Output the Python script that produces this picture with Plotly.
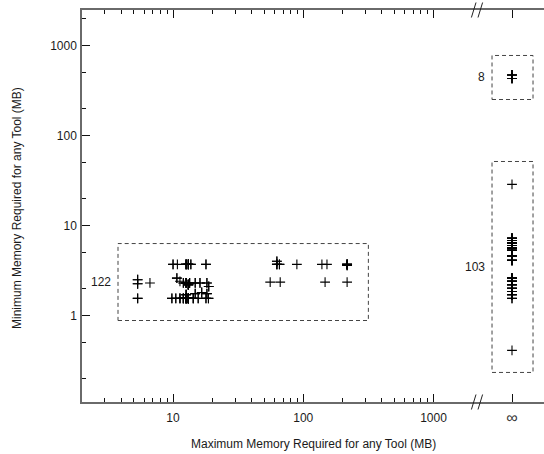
import math
import numpy as np
import plotly.graph_objects as go

# ---------------- data ----------------
# Tools with a finite maximum memory: (max MB, min MB, number of tools at that point)
fin_max = [10.0, 10.8, 12.6, 13.1, 13.7, 17.9, 62.7, 62.7, 65.6, 89.3, 139, 152, 217, 217,
           5.35, 5.35, 6.65, 10.7, 11.3, 12.0, 12.6, 13.1, 13.4, 14.8, 16.1, 18.2, 18.8, 55.7, 66.5, 147, 217,
           5.35, 9.8, 10.5, 11.3, 12.0, 12.6, 13.1, 14.3, 15.6, 17.9, 18.7, 14.8, 16.6, 18.2, 12.6]
fin_min = [3.7, 3.7, 3.7, 3.7, 3.7, 3.7, 4.0, 3.7, 3.7, 3.7, 3.7, 3.7, 3.7, 3.6,
           2.5, 2.25, 2.3, 2.6, 2.4, 2.3, 2.3, 2.2, 2.3, 2.3, 2.3, 2.3, 2.1, 2.35, 2.35, 2.35, 2.35,
           1.55, 1.55, 1.55, 1.55, 1.55, 1.55, 1.55, 1.55, 1.55, 1.55, 1.55, 1.75, 1.8, 1.75, 1.7]
fin_count = [2, 1, 5, 5, 2, 2, 2, 3, 2, 1, 1, 1, 5, 2,
             2, 2, 1, 2, 1, 2, 6, 6, 3, 2, 2, 2, 2, 1, 1, 1, 1,
             2, 2, 2, 3, 4, 10, 10, 3, 2, 2, 2, 2, 2, 2, 3]

# Tools with unbounded (infinite) maximum memory, lower cluster (103 tools)
inf_low_min = [28.6, 7.2, 6.8, 6.4, 6.0, 5.6, 5.3, 4.6, 4.1,
               2.6, 2.4, 2.2, 2.0, 1.85, 1.7, 1.55, 0.41]
inf_low_count = [1, 8, 10, 10, 10, 8, 8, 6, 6,
                 6, 8, 6, 5, 4, 4, 2, 1]

# Tools with unbounded maximum memory, upper cluster (8 tools)
inf_high_min = [470, 430]
inf_high_count = [4, 4]

x_tick_text_inf = "∞"
group_labels = ["122", "8", "103"]

# ---------------- layout constants ----------------
W, H = 544, 454
ML, MR, MT, MB = 82, 0, 10, 52
PW = W - ML - MR
PH = H - MT - MB
BREAK_PX = 470                      # where the log axis stops
SPLIT = (BREAK_PX - ML) / PW
INF_POS = 0.0                       # position of the infinity column on the second x axis
X2_RANGE = [-0.5676, 0.4324]

X_RANGE = [math.log10(2), 3.28]
Y_RANGE = [-0.961, 3.394]

FONT = "Liberation Sans, Arial, Helvetica, sans-serif"
TXT = "#1a1a1a"
AXC = "#6a6a6a"
TKC = "#111111"
BOXC = "#444444"

marker = dict(symbol="cross-thin", size=7, color="black",
              line=dict(width=1.1, color="black"))

fx = np.repeat(fin_max, fin_count)
fy = np.repeat(fin_min, fin_count)
ily = np.repeat(inf_low_min, inf_low_count)
ihy = np.repeat(inf_high_min, inf_high_count)

fig = go.Figure()
fig.add_trace(go.Scatter(x=fx, y=fy, mode="markers", marker=marker,
                         xaxis="x", yaxis="y", showlegend=False))
fig.add_trace(go.Scatter(x=[INF_POS] * len(ily), y=ily, mode="markers", marker=marker,
                         xaxis="x2", yaxis="y", showlegend=False))
fig.add_trace(go.Scatter(x=[INF_POS] * len(ihy), y=ihy, mode="markers", marker=marker,
                         xaxis="x2", yaxis="y", showlegend=False))

common = dict(showgrid=False, zeroline=False, showline=True, linecolor=AXC, linewidth=1.5,
              ticks="inside", ticklen=8, tickcolor=TKC, tickwidth=1,
              tickfont=dict(family=FONT, size=12, color=TXT))

fig.update_layout(
    width=W, height=H,
    margin=dict(l=ML, r=MR, t=MT, b=MB, pad=0),
    paper_bgcolor="white", plot_bgcolor="white",
    font=dict(family=FONT, size=12, color=TXT),
    showlegend=False,
    xaxis=dict(type="log", domain=[0, SPLIT], range=X_RANGE, dtick=1, tick0=0,
               exponentformat="none", mirror="ticks", anchor="y", ticklabelstandoff=4,
               minor=dict(ticks="inside", ticklen=4, dtick="D1", tickcolor=TKC, showgrid=False),
               **common),
    xaxis2=dict(domain=[SPLIT, 1], range=X2_RANGE, tickmode="array", tickvals=[INF_POS],
                ticktext=[x_tick_text_inf], mirror="ticks", anchor="y", ticklabelstandoff=0,
                **{**common, "tickfont": dict(family=FONT, size=16, color="#333333")}),
    yaxis=dict(type="log", range=Y_RANGE, dtick=1, tick0=0, exponentformat="none",
               anchor="x", mirror=False, ticklabelstandoff=1,
               minor=dict(ticks="inside", ticklen=4, dtick="D2", tickcolor=TKC, showgrid=False),
               **common),
    yaxis2=dict(type="log", range=Y_RANGE, dtick=1, tick0=0, overlaying="y", side="right",
                anchor="free", position=1, showline=False, showgrid=False, zeroline=False,
                ticks="inside", ticklen=4, tickcolor=TKC, showticklabels=False),
)

# dashed group boxes (data coordinates)
boxes = [
    dict(xref="x", yref="y", x0=3.78, x1=316, y0=0.88, y1=6.3, label=group_labels[0]),
    dict(xref="x2", yref="y", x0=INF_POS - 0.27, x1=INF_POS + 0.284, y0=251, y1=774, label=group_labels[1]),
    dict(xref="x2", yref="y", x0=INF_POS - 0.27, x1=INF_POS + 0.284, y0=0.233, y1=51.4, label=group_labels[2]),
]
for b in boxes:
    fig.add_shape(type="rect", xref=b["xref"], yref=b["yref"], x0=b["x0"], x1=b["x1"],
                  y0=b["y0"], y1=b["y1"], line=dict(color=BOXC, width=1, dash="4px,3px"),
                  fillcolor="rgba(0,0,0,0)")
    ax_x = math.log10(b["x0"]) if b["xref"] == "x" else b["x0"]
    ax_y = (math.log10(b["y0"]) + math.log10(b["y1"])) / 2
    fig.add_annotation(x=ax_x, y=ax_y, xref=b["xref"], yref="y", text=b["label"],
                       showarrow=False, xanchor="right", yanchor="middle", xshift=-5,
                       font=dict(family=FONT, size=12, color=TXT))

# axis break marks "//" on bottom and top axes
def px2paper(px, py):
    return (px - ML) / PW, (MT + PH - py) / PH

for cy in (MT + PH, MT):
    for cx in (473.7, 480.3):
        x0, y0 = px2paper(cx - 2.3, cy + 7.5)
        x1, y1 = px2paper(cx + 2.3, cy - 7.5)
        fig.add_shape(type="line", xref="paper", yref="paper", x0=x0, y0=y0, x1=x1, y1=y1,
                      line=dict(color="#222222", width=1))

# axis titles
fig.add_annotation(text="Maximum Memory Required for any Tool (MB)", xref="paper", yref="paper",
                   x=0.5, y=(MT + PH - 444) / PH, showarrow=False, xanchor="center", yanchor="middle",
                   font=dict(family=FONT, size=12, color=TXT))
fig.add_annotation(text="Minimum Memory Required for any Tool (MB)", xref="paper", yref="paper",
                   x=(17 - ML) / PW, y=(MT + PH - 208) / PH, showarrow=False, textangle=-90,
                   xanchor="center", yanchor="middle",
                   font=dict(family=FONT, size=12, color=TXT))

fig.write_html("out.html", config={"displayModeBar": False},
               post_script="document.body.style.margin='0';document.body.style.overflow='hidden';")
